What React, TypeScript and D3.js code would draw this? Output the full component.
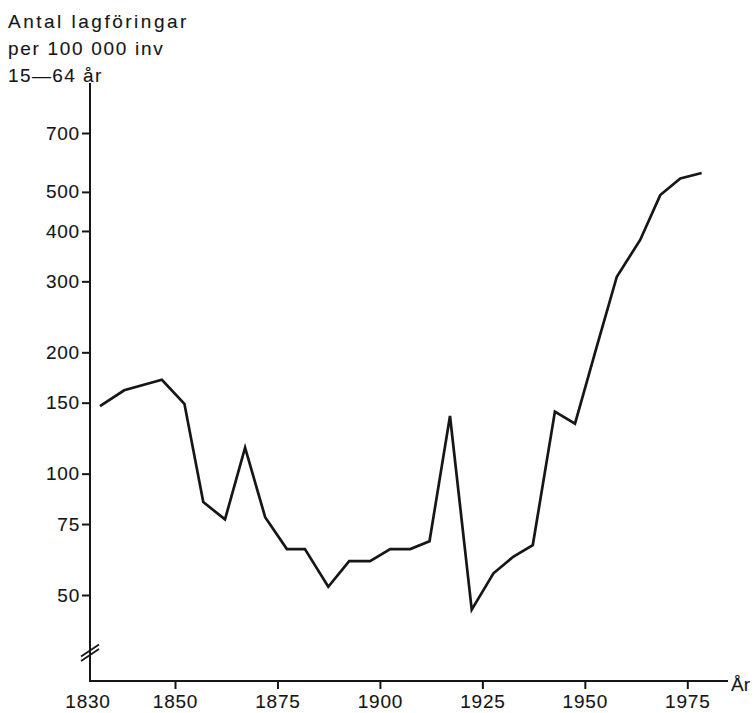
import { useRef, useEffect } from 'react';
import * as d3 from 'd3';

// Antal lagföringar per 100 000 inv 15-64 år
const years = [
  1831.7, 1837.6, 1846.8, 1852.3, 1856.9, 1862.2, 1867.1, 1872, 1877.3, 1881.7,
  1887.4, 1892.5, 1897.6, 1902.5, 1907.4, 1912.1, 1917.1, 1922.4, 1927.7, 1932.6,
  1937.3, 1942.7, 1947.6, 1952.7, 1957.8, 1963.5, 1968.4, 1973.3, 1978.5,
];
const values = [
  147, 161, 171, 149, 85, 77, 116, 78, 65, 65,
  52.4, 60.7, 60.7, 65, 65, 68, 139, 46, 56.6, 62.3,
  66.5, 142.5, 133, 203, 308, 380, 491, 540, 557,
];
const yTicks = [50, 75, 100, 150, 200, 300, 400, 500, 700];
const xTicks = [1850, 1875, 1900, 1925, 1950, 1975];
const titleLines = ['Antal lagföringar', 'per 100 000 inv', '15—64 år'];

const FONT = '"Liberation Sans", Arial, Helvetica, sans-serif';
const INK = '#161616';

export default function App() {
  const ref = useRef<SVGSVGElement | null>(null);

  useEffect(() => {
    if (!ref.current) return;
    const svg = d3.select(ref.current);
    svg.selectAll('*').remove();

    const x = d3.scaleLinear().domain([1850, 1975]).range([175, 687.3]);
    const y = d3.scaleLog().domain([50, 700]).range([595, 133]);

    const axisX = 90;
    const axisY = 681;

    const styleText = (sel: any, size = 19, ls = 0.8) =>
      sel
        .attr('font-family', FONT)
        .attr('font-size', size)
        .attr('letter-spacing', ls)
        .attr('fill', INK)
        .attr('stroke', INK)
        .attr('stroke-width', 0.12);

    // title
    svg
      .append('g')
      .selectAll('text')
      .data(titleLines)
      .join('text')
      .attr('x', 8)
      .attr('y', (_, i) => 28 + i * 27)
      .call(styleText, 19, 1.9)
      .attr('letter-spacing', (_, i) => (i === 0 ? 2.5 : i === 1 ? 1.7 : 1.4))
      .text(d => d);

    // y axis
    const gy = svg
      .append('g')
      .attr('transform', `translate(${axisX},0)`)
      .call(
        d3
          .axisLeft(y)
          .tickValues(yTicks)
          .tickFormat(d3.format('d'))
          .tickSize(8)
          .tickPadding(2)
      );
    gy.select('.domain').remove();
    gy.selectAll('line').attr('stroke', INK).attr('stroke-width', 2);
    gy.selectAll('text').call(styleText);

    svg
      .append('line')
      .attr('x1', axisX)
      .attr('x2', axisX)
      .attr('y1', 83)
      .attr('y2', axisY)
      .attr('stroke', INK)
      .attr('stroke-width', 2);

    // axis break marks
    svg
      .append('g')
      .selectAll('line')
      .data([0, 1])
      .join('line')
      .attr('x1', axisX - 9)
      .attr('x2', axisX + 9)
      .attr('y1', i => 661 - i * 4.5)
      .attr('y2', i => 649 - i * 4.5)
      .attr('stroke', INK)
      .attr('stroke-width', 1.8);

    // x axis
    const gx = svg
      .append('g')
      .attr('transform', `translate(0,${axisY})`)
      .call(d3.axisBottom(x).tickValues(xTicks).tickFormat(d3.format('d')).tickSize(8));
    gx.select('.domain').remove();
    gx.selectAll('line').attr('stroke', INK).attr('stroke-width', 2);
    gx.selectAll('text').attr('y', 27).attr('dy', 0).call(styleText);

    svg
      .append('line')
      .attr('x1', axisX - 1)
      .attr('x2', 728)
      .attr('y1', axisY)
      .attr('y2', axisY)
      .attr('stroke', INK)
      .attr('stroke-width', 2);

    svg
      .append('text')
      .attr('x', axisX - 2)
      .attr('y', axisY + 27)
      .attr('text-anchor', 'middle')
      .call(styleText)
      .text('1830');

    svg
      .append('text')
      .attr('x', 731)
      .attr('y', axisY + 10)
      .call(styleText, 19, 0)
      .text('År');

    // series
    const line = d3
      .line<number>()
      .x((_, i) => x(years[i]))
      .y(d => y(d));

    svg
      .append('path')
      .datum(values)
      .attr('d', line)
      .attr('fill', 'none')
      .attr('stroke', INK)
      .attr('stroke-width', 2.7)
      .attr('stroke-linejoin', 'miter');
  }, []);

  return (
    <svg
      ref={ref}
      width={756}
      height={713}
      style={{ position: 'absolute', left: 0, top: 0, background: '#fff' }}
    />
  );
}
